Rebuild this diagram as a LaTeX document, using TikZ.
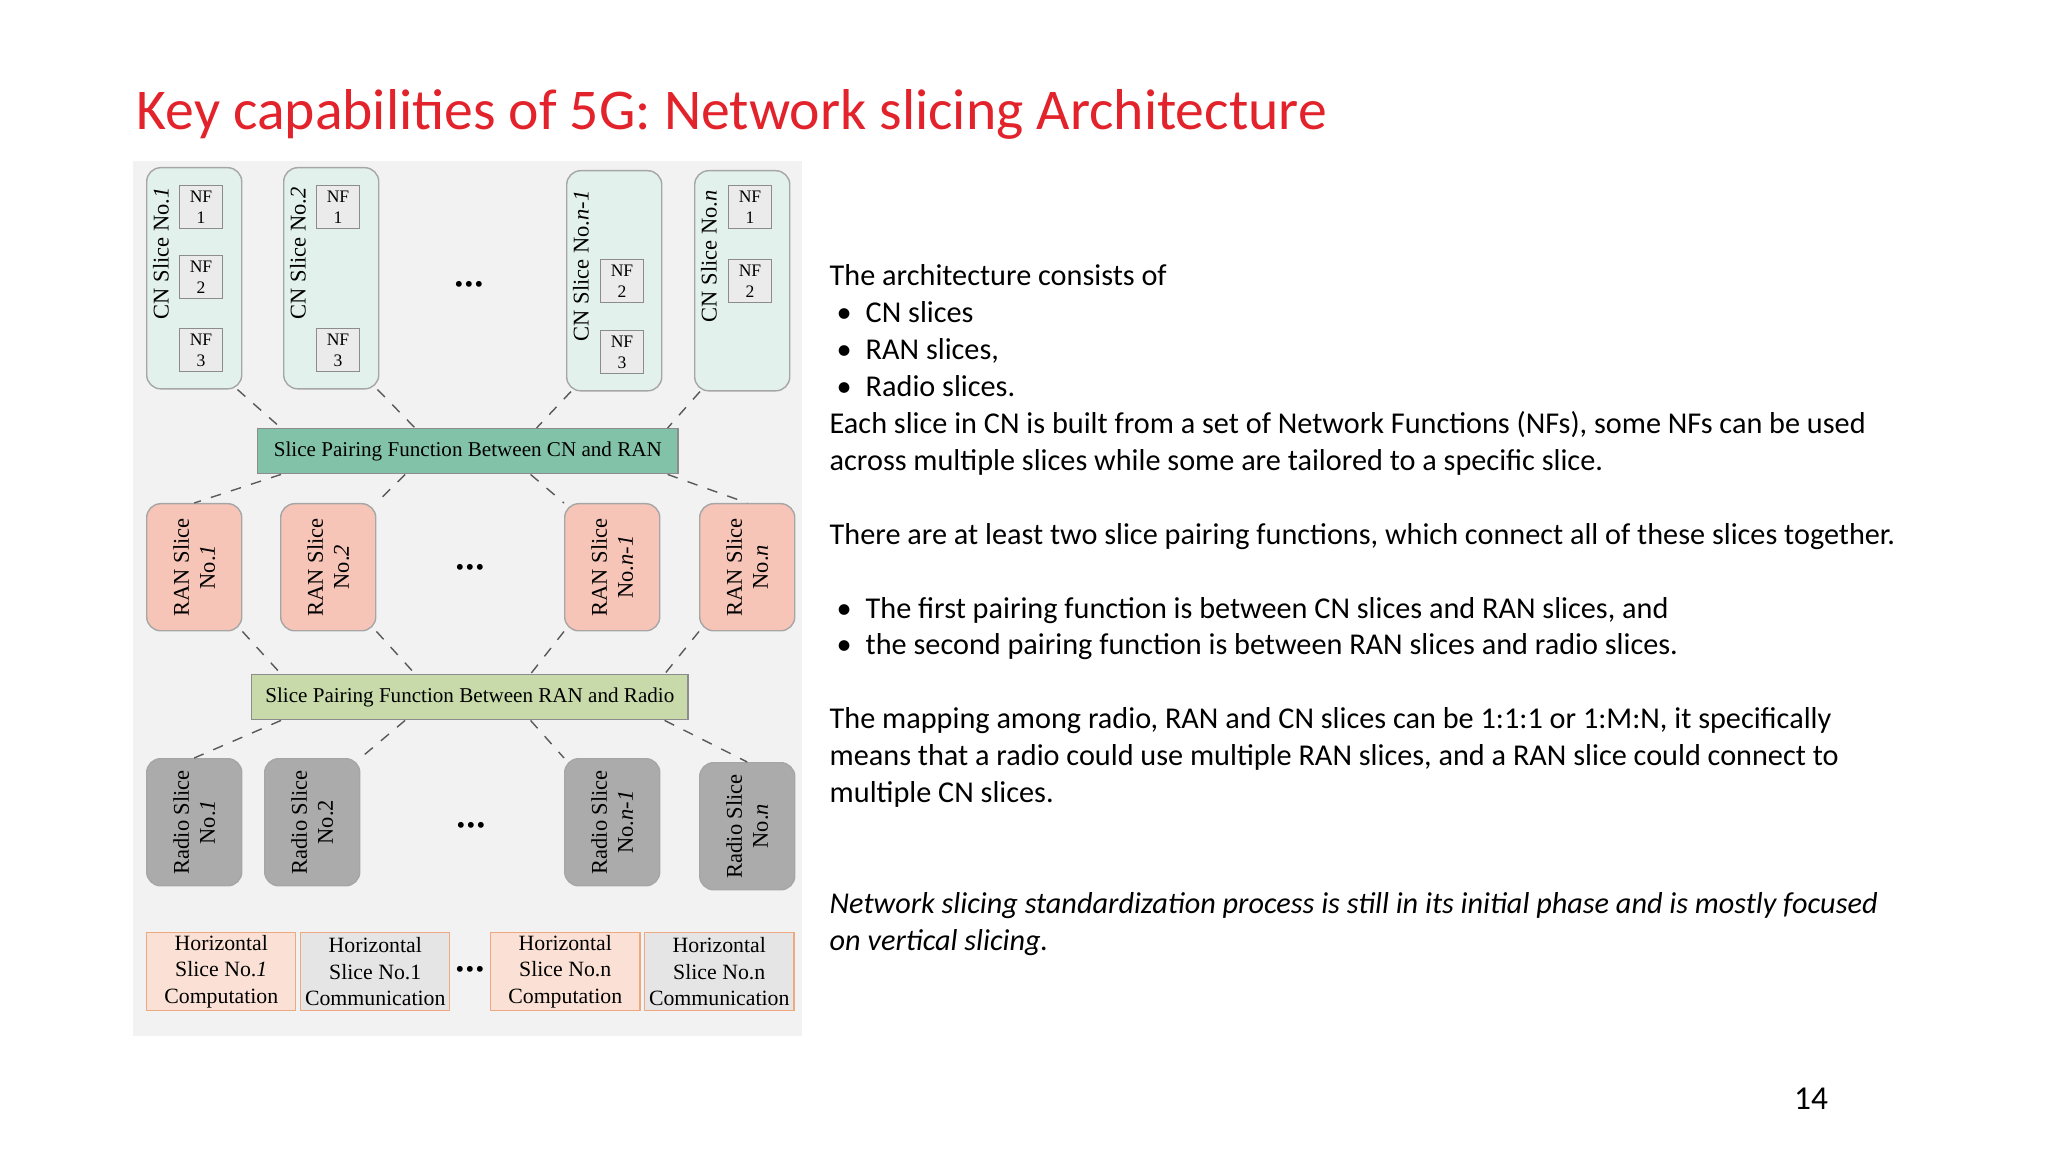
\documentclass[tikz,border=0pt]{standalone}
\usepackage{fontspec}
\setmainfont{Liberation Serif}
\newfontfamily\bodyfont{Carlito}
\usepackage{xcolor}
\definecolor{TitleRed}{HTML}{E3232B}
\definecolor{CnFill}{HTML}{E2F1EB}
\definecolor{PairOne}{HTML}{82C2A8}
\definecolor{PairTwo}{HTML}{C8DAA9}
\definecolor{RanFill}{HTML}{F7C5B7}
\definecolor{RadioFill}{HTML}{ABABAB}
\definecolor{CompFill}{HTML}{FBE1D5}
\definecolor{EdgeOrange}{HTML}{EFA981}
\usepackage{tikz}
\tikzset{
  slice/.style={draw=black!35, rounded corners=0.14cm, anchor=north west, minimum width=0.95cm, minimum height=1.27cm, inner sep=0pt},
  nfbox/.style={draw=black!45, fill=black!8, minimum width=0.43cm, minimum height=0.43cm, inner sep=0pt, align=center, font=\fontsize{5}{6}\selectfont},
  pairing/.style={draw=black!45, anchor=north west, minimum height=0.45cm, font=\fontsize{6}{7}\selectfont},
  horiz/.style={draw=EdgeOrange, anchor=north west, minimum width=1.49cm, minimum height=0.78cm, inner sep=0pt, align=center, font=\fontsize{6.2}{7.6}\selectfont},
  slabel/.style={rotate=90, align=center, font=\fontsize{6.4}{7.4}\selectfont},
  conn/.style={dashed, black!65, thin},
  ellip/.style={font=\fontsize{7}{7}\selectfont}
}
\newcommand{\bul}{\hspace*{0.07cm}\makebox[0.29cm][l]{\textbullet}}
\newcommand{\threedots}{\textbullet\kern0.4pt\textbullet\kern0.4pt\textbullet}
\begin{document}
\begin{tikzpicture}[x=0.01cm, y=-0.01cm]
  \useasboundingbox[fill=white] (0,0) rectangle (2048,1152);
  %
  % TITLE
  \node[anchor=base west, inner sep=0pt, font=\bodyfont\fontsize{16.4}{19}\selectfont, text=TitleRed] (title) at (136,130) {Key capabilities of 5G: Network slicing Architecture};
  \fill[black!5] (133,161) rectangle (802,1036);
  %
  % CN SLICES
  \node[slice, fill=CnFill, minimum height=2.21cm] (cn1) at (146,167) {};
  \node[slice, fill=CnFill, minimum height=2.21cm] (cn2) at (283,167) {};
  \node[slice, fill=CnFill, minimum height=2.20cm] (cnm) at (566,170) {};
  \node[slice, fill=CnFill, minimum height=2.20cm] (cnn) at (694,170) {};
  \node[slabel, anchor=east] at ([xshift=0.15cm,yshift=-0.08cm]cn1.north west) {CN Slice No.\textit{1}};
  \node[slabel, anchor=east] at ([xshift=0.15cm,yshift=-0.08cm]cn2.north west) {CN Slice No.\textit{2}};
  \node[slabel, anchor=east] at ([xshift=0.15cm,yshift=-0.08cm]cnm.north west) {CN Slice No.\textit{n-1}};
  \node[slabel, anchor=east] at ([xshift=0.15cm,yshift=-0.08cm]cnn.north west) {CN Slice No.\textit{n}};
  \node[nfbox] (nf11) at (201,207) {NF\\1};
  \node[nfbox] (nf12) at (201,277) {NF\\2};
  \node[nfbox] (nf13) at (201,350) {NF\\3};
  \node[nfbox] (nf21) at (338,207) {NF\\1};
  \node[nfbox] (nf23) at (338,350) {NF\\3};
  \node[nfbox] (nfm2) at (622,281) {NF\\2};
  \node[nfbox] (nfm3) at (622,352) {NF\\3};
  \node[nfbox] (nfn1) at (750,207) {NF\\1};
  \node[nfbox] (nfn2) at (750,281) {NF\\2};
  \node[ellip] (dotcn) at (469,287) {\threedots};
  %
  % PAIRING CN - RAN
  \node[pairing, fill=PairOne, minimum width=4.20cm] (spfcn) at (257,428) {Slice Pairing Function Between CN and RAN};
  %
  % RAN SLICES
  \node[slice, fill=RanFill] (ran1) at (146,503) {};
  \node[slice, fill=RanFill] (ran2) at (280,503) {};
  \node[slice, fill=RanFill] (ranm) at (564,503) {};
  \node[slice, fill=RanFill] (rann) at (699,503) {};
  \node[slabel] at (ran1.center) {RAN Slice\\No.\textit{1}};
  \node[slabel] at (ran2.center) {RAN Slice\\No.\textit{2}};
  \node[slabel] at (ranm.center) {RAN Slice\\No.\textit{n-1}};
  \node[slabel] at (rann.center) {RAN Slice\\No.\textit{n}};
  \node[ellip] (dotran) at (470,570) {\threedots};
  %
  % PAIRING RAN - RADIO
  \node[pairing, fill=PairTwo, minimum width=4.36cm] (spfrad) at (251,674) {Slice Pairing Function Between RAN and Radio};
  %
  % RADIO SLICES
  \node[slice, fill=RadioFill] (rad1) at (146,758) {};
  \node[slice, fill=RadioFill] (rad2) at (264,758) {};
  \node[slice, fill=RadioFill] (radm) at (564,758) {};
  \node[slice, fill=RadioFill] (radn) at (699,762) {};
  \node[slabel] at (rad1.center) {Radio Slice\\No.\textit{1}};
  \node[slabel] at (rad2.center) {Radio Slice\\No.2};
  \node[slabel] at (radm.center) {Radio Slice\\No.\textit{n-1}};
  \node[slabel] at (radn.center) {Radio Slice\\No.\textit{n}};
  \node[ellip] (dotrad) at (471,828) {\threedots};
  %
  % HORIZONTAL SLICES
  \node[horiz, fill=CompFill] (hc1) at (146,932) {Horizontal\\Slice No.\textit{1}\\Computation};
  \node[horiz, fill=black!10] (hm1) at (300,932) {Horizontal\\Slice No.1\\Communication};
  \node[horiz, fill=CompFill] (hcn) at (490,932) {Horizontal\\Slice No.n\\Computation};
  \node[horiz, fill=black!10] (hmn) at (644,932) {Horizontal\\Slice No.n\\Communication};
  \node[ellip] (dothz) at (470,972) {\threedots};
  %
  % CONNECTORS
  \draw[conn] ([xshift=-0.05cm]cn1.south east) -- ([xshift=0.24cm]spfcn.north west);
  \draw[conn] ([xshift=-0.02cm]cn2.south east) -- ([xshift=1.58cm]spfcn.north west);
  \draw[conn] ([xshift=0.05cm]cnm.south west) -- ([xshift=-1.42cm]spfcn.north east);
  \draw[conn] ([xshift=0.06cm]cnn.south west) -- ([xshift=-0.11cm]spfcn.north east);
  \draw[conn] ([xshift=0.24cm]spfcn.south west) -- (ran1.north);
  \draw[conn] ([xshift=1.48cm]spfcn.south west) -- (ran2.north east);
  \draw[conn] ([xshift=-1.48cm]spfcn.south east) -- (ranm.north west);
  \draw[conn] ([xshift=-0.11cm]spfcn.south east) -- (rann.north);
  \draw[conn] (ran1.south east) -- ([xshift=0.30cm]spfrad.north west);
  \draw[conn] (ran2.south east) -- ([xshift=1.64cm]spfrad.north west);
  \draw[conn] (ranm.south west) -- ([xshift=-1.58cm]spfrad.north east);
  \draw[conn] (rann.south west) -- ([xshift=-0.24cm]spfrad.north east);
  \draw[conn] ([xshift=0.30cm]spfrad.south west) -- (rad1.north);
  \draw[conn] ([xshift=1.54cm]spfrad.south west) -- (rad2.north east);
  \draw[conn] ([xshift=-1.58cm]spfrad.south east) -- (radm.north west);
  \draw[conn] ([xshift=-0.24cm]spfrad.south east) -- (radn.north);
  %
  % TEXT
  \node[anchor=north west, inner sep=0pt, align=left, font=\bodyfont\fontsize{8.6}{10.5}\selectfont] (body) at (829,264) {%
  The architecture consists of\\
  \bul CN slices\\
  \bul RAN slices,\\
  \bul Radio slices.\\
  Each slice in CN is built from a set of Network Functions (NFs), some NFs can be used\\
  across multiple slices while some are tailored to a specific slice.\\
  \mbox{}\\
  There are at least two slice pairing functions, which connect all of these slices together.\\
  \mbox{}\\
  \bul The first pairing function is between CN slices and RAN slices, and\\
  \bul the second pairing function is between RAN slices and radio slices.\\
  \mbox{}\\
  The mapping among radio, RAN and CN slices can be 1:1:1 or 1:M:N, it specifically\\
  means that a radio could use multiple RAN slices, and a RAN slice could connect to\\
  multiple CN slices.\\
  \mbox{}\\
  \mbox{}\\
  \textit{Network slicing standardization process is still in its initial phase and is mostly focused}\\
  \textit{on vertical slicing.}};
  \node[anchor=base, font=\bodyfont\fontsize{9.5}{11}\selectfont] (page) at (1811,1109) {14};
\end{tikzpicture}
\end{document}
